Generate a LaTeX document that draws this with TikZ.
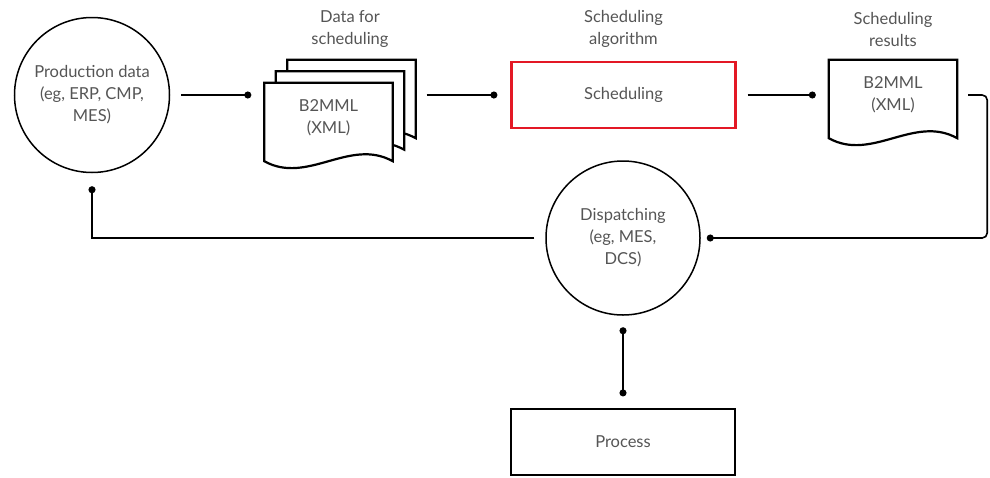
\documentclass[tikz,border=0pt]{standalone}
\usepackage{fontspec}
\setmainfont{Lato}
\usepackage{tikz}
\usetikzlibrary{positioning,calc,arrows.meta}

\definecolor{abbred}{RGB}{227,24,37}
\definecolor{labelgray}{RGB}{85,85,85}

\pgfdeclarelayer{background}
\pgfsetlayers{background,main}

% paper outline with a wavy bottom edge, drawn behind the node text
\newcommand{\docsheet}[1]{%
  \begin{pgfonlayer}{background}
    \draw[outline] (#1.north west) -- (#1.north east) -- ($(#1.south east)+(0,8)$)
      .. controls +(-43,-24) and +(43,24) .. ($(#1.south west)+(0,8)$) -- cycle;
  \end{pgfonlayer}}

\begin{document}
\begin{tikzpicture}[x=1pt, y=-1pt,
        font=\fontsize{16.5}{22}\selectfont, text=labelgray,
        bubble/.style={draw, circle, line width=1.5pt, inner sep=0pt, align=center},
        sheet/.style={minimum width=128pt, minimum height=70pt, inner sep=0pt, align=center},
        outline/.style={draw, fill=white, line width=2.2pt},
        task/.style={rectangle, line width=2.2pt, minimum width=224pt, minimum height=66pt},
        title/.style={align=center},
        link/.style={line width=1.6pt, -{Circle[length=7pt]}, shorten <=11pt, shorten >=13pt}
    ]
        \useasboundingbox (0,0) rectangle (990,477);

        % Sources
        \node [bubble, minimum size=155pt] (prod) at (92,95) {Production data\\(eg, ERP, CMP,\\MES)};

        % Data for scheduling (stack of three sheets)
        \node [sheet] (dfs1) at (328.5,118) {B2MML\\(XML)};
        \node [sheet] (dfs2) at ($(dfs1)+(11.5,-11.5)$) {};
        \node [sheet] (dfs3) at ($(dfs2)+(11.5,-11.5)$) {};
        \docsheet{dfs3}
        \docsheet{dfs2}
        \docsheet{dfs1}

        % Scheduling algorithm
        \node [task, draw=abbred] (sched) at (623.5,95) {Scheduling};

        % Scheduling results
        \node [sheet] (res) at (893,95) {B2MML\\(XML)};
        \docsheet{res}

        % Dispatching and process
        \node [bubble, minimum size=154pt] (disp) at (623,238) {Dispatching\\(eg, MES,\\DCS)};
        \node [task, draw] (proc) at (623,442) {Process};

        % Titles
        \node [title] (t-data) at (350,29) {Data for\\scheduling};
        \node [title] (t-algo) at (623.5,29) {Scheduling\\algorithm};
        \node [title] (t-res) at (893,29) {Scheduling\\results};

        \draw[link] (prod.east) -- (prod.east -| dfs1.west);
        \draw[link] (sched.west -| dfs3.east) -- (sched.west);
        \draw[link] (sched.east) -- (res.west);
        \draw[link, rounded corners=5pt, shorten >=6pt] (res.east) -- ++(30,0) |- (disp.east);
        \draw[link] (disp.west) -| (prod.south);
        \draw[link, {Circle[length=7pt]}-{Circle[length=7pt]}, shorten <=11.5pt, shorten >=11.5pt] (disp.south) -- (proc.north);

    \end{tikzpicture}
\end{document}
